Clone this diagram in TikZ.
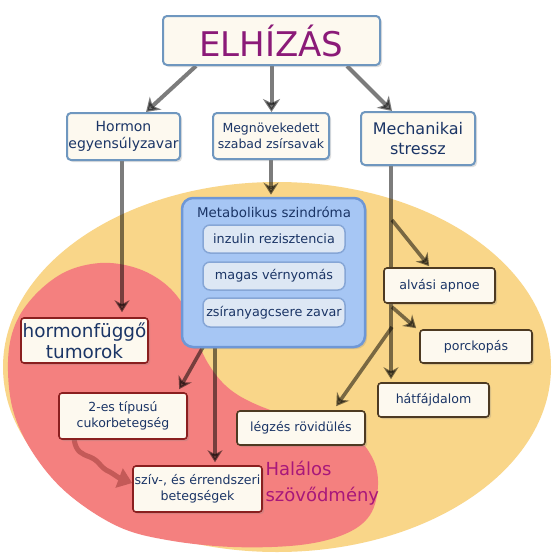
\documentclass[tikz,border=0pt]{standalone}
\usepackage{fontspec}
\setmainfont{DejaVu Sans}
\usetikzlibrary{arrows.meta,shadows}
\definecolor{ell}{HTML}{F9D689}
\definecolor{redb}{HTML}{F4807F}
\definecolor{linegray}{HTML}{7C7C7C}
\definecolor{navy}{HTML}{1B3566}
\definecolor{purp}{HTML}{8B1A78}
\definecolor{magtext}{HTML}{A8177A}
\definecolor{cream}{HTML}{FDF9EF}
\definecolor{bluebord}{HTML}{6F97BF}
\definecolor{metafill}{HTML}{A6C6F4}
\definecolor{metabord}{HTML}{6E97D6}
\definecolor{innerfill}{HTML}{DDE7F4}
\definecolor{innerbord}{HTML}{86A6D6}
\definecolor{redbord}{HTML}{8A1F1F}
\definecolor{brbord}{HTML}{4D3A22}
\definecolor{wavycol}{HTML}{C45A58}
\pgfdeclarelayer{bg}
\pgfdeclarelayer{lines}
\pgfsetlayers{bg,lines,main}
\newcommand{\fs}[2]{\fontsize{#1}{#2}\selectfont}
\begin{document}
\begin{tikzpicture}[x=1pt,y=-1pt,
  shad/.style={drop shadow={shadow xshift=2pt,shadow yshift=-2pt,opacity=0.25}},
  topbox/.style={shad,draw=bluebord,line width=2pt,fill=cream,rounded corners=4pt,inner sep=0pt,text=navy,align=center},
  lowbox/.style={shad,draw=#1,line width=1.6pt,fill=cream,rounded corners=3pt,inner sep=0pt,text=navy,align=center},
  innerbox/.style={draw=innerbord,line width=1.5pt,fill=innerfill,rounded corners=7pt,inner sep=0pt,text=navy,
     minimum width=142pt,font=\fs{12.8}{15}},
  arr/.style={draw=linegray,line width=3.6pt,-{Stealth[length=12pt,width=15pt,inset=4pt]}},
  arrtop/.style={arr,line width=4pt,-{Stealth[length=13pt,width=17pt,inset=4pt]}}
]
\useasboundingbox (0,0) rectangle (554,554);
\begin{pgfonlayer}{bg}
\fill[white] (0,0) rectangle (554,554);
\fill[ell] (277,367) ellipse [x radius=274pt, y radius=185pt];
\fill[redb] plot[smooth cycle, tension=0.6] coordinates {
 (100,263) (133,267) (160,280) (180,300) (195,330) (205,358) (225,385) (253,403)
 (300,420) (350,434) (372,457) (378,485) (370,515) (345,534) (300,545) (233,547)
 (167,540) (117,526) (67,493) (33,453) (13,410) (8,362) (15,325) (35,295) (65,272)};
\end{pgfonlayer}

% nodes
\node[topbox,minimum width=217pt,minimum height=49pt,text=purp,font=\fs{34}{36}] (top) at (271.5,40.5) {ELHÍZÁS};
\node[topbox,minimum width=113pt,minimum height=47pt,font=\fs{14}{17}] (hormon) at (123.5,136.5) {Hormon\\egyensúlyzavar};
\node[topbox,minimum width=116pt,minimum height=46pt,font=\fs{12.5}{16}] (megnov) at (271,136) {Megnövekedett\\szabad zsírsavak};
\node[topbox,minimum width=114pt,minimum height=53pt,font=\fs{16}{20}] (mech) at (418,138.5) {Mechanikai\\stressz};

\node[shad,draw=metabord,line width=2.5pt,fill=metafill,rounded corners=11pt,minimum width=183pt,minimum height=149pt,inner sep=0pt] (metab) at (273.5,272.5) {};
\node[text=navy,font=\fs{13.4}{15}] (metabt) at (274,212) {Metabolikus szindróma};
\node[innerbox,minimum height=28pt] (inz) at (274,239) {inzulin rezisztencia};
\node[innerbox,minimum height=28pt] (mag) at (274,276) {magas vérnyomás};
\node[innerbox,minimum height=29pt] (zsir) at (274,312.5) {zsíranyagcsere zavar};

\node[lowbox=redbord,minimum width=127pt,minimum height=45pt,font=\fs{18.4}{21}] (hormonf) at (84.5,340.5) {hormonfüggő\\tumorok};
\node[lowbox=redbord,minimum width=128pt,minimum height=46pt,font=\fs{12.5}{16}] (tipus) at (123,416) {2-es típusú\\cukorbetegség};
\node[lowbox=redbord,minimum width=129pt,minimum height=46pt,font=\fs{12.6}{16}] (sziv) at (197.5,489) {szív-, és érrendszeri\\betegségek};
\node[lowbox=brbord,minimum width=128pt,minimum height=34pt,font=\fs{12.6}{15}] (legzes) at (301,428) {légzés rövidülés};
\node[lowbox=brbord,minimum width=111pt,minimum height=35pt,font=\fs{12.7}{15}] (alvasi) at (439.5,285.5) {alvási apnoe};
\node[lowbox=brbord,minimum width=112pt,minimum height=33pt,font=\fs{12.6}{15}] (porc) at (476,346.5) {porckopás};
\node[lowbox=brbord,minimum width=111pt,minimum height=34pt,font=\fs{12.6}{15}] (hat) at (433.5,400) {hátfájdalom};

\node[anchor=west,align=left,text=magtext,font=\fs{18}{26}] (halal) at (262,483) {Halálos\\szövődmény};

% connectors
\coordinate (mx) at ([xshift=31pt]mech.south west);
\coordinate (b1) at (392,220);
\coordinate (b2) at (392,307);
\coordinate (b3) at (392,327);
\coordinate (mbl) at (203,347);
\coordinate (mbv) at (215,347);
\begin{pgfonlayer}{lines}
\begin{scope}[blend mode=multiply]
\draw[arrtop] ([xshift=34pt]top.south west) -- ([xshift=80pt]hormon.north west);
\draw[arrtop] (top.south) -- (top.south |- megnov.north);
\draw[arrtop] ([xshift=-34pt]top.south east) -- ([xshift=32pt]mech.north west);
\draw[arr] ([xshift=-1.5pt]hormon.south) -- ([xshift=-1.5pt,yshift=5pt]hormon.south |- hormonf.north);
\draw[arr] (megnov.south) -- ([yshift=2pt]megnov.south |- metab.north);
\draw[arr] (mx) -- ([yshift=3pt]mx |- hat.north);
\draw[arr] (b1) -- ([xshift=46pt,yshift=1pt]alvasi.north west);
\draw[arr] (b2) -- ([xshift=-3pt,yshift=1pt]porc.north west);
\draw[arr] (b3) -- ([xshift=100pt,yshift=4pt]legzes.north west);
\draw[arr] (mbl) -- ([xshift=121pt,yshift=3pt]tipus.north west);
\draw[arr] (mbv) -- ([yshift=3pt]mbv |- sziv.north);
\end{scope}
\draw[wavycol,line width=5pt,-{Triangle[length=14pt,width=20pt]}]
  ([xshift=16pt]tipus.south west) .. controls (76,452) and (82,454) .. (90,457)
  .. controls (100,461) and (100,468) .. (110,472)
  .. controls (115,475) and (119,478) .. ([yshift=6pt]sziv.west);
\end{pgfonlayer}
\end{tikzpicture}
\end{document}
